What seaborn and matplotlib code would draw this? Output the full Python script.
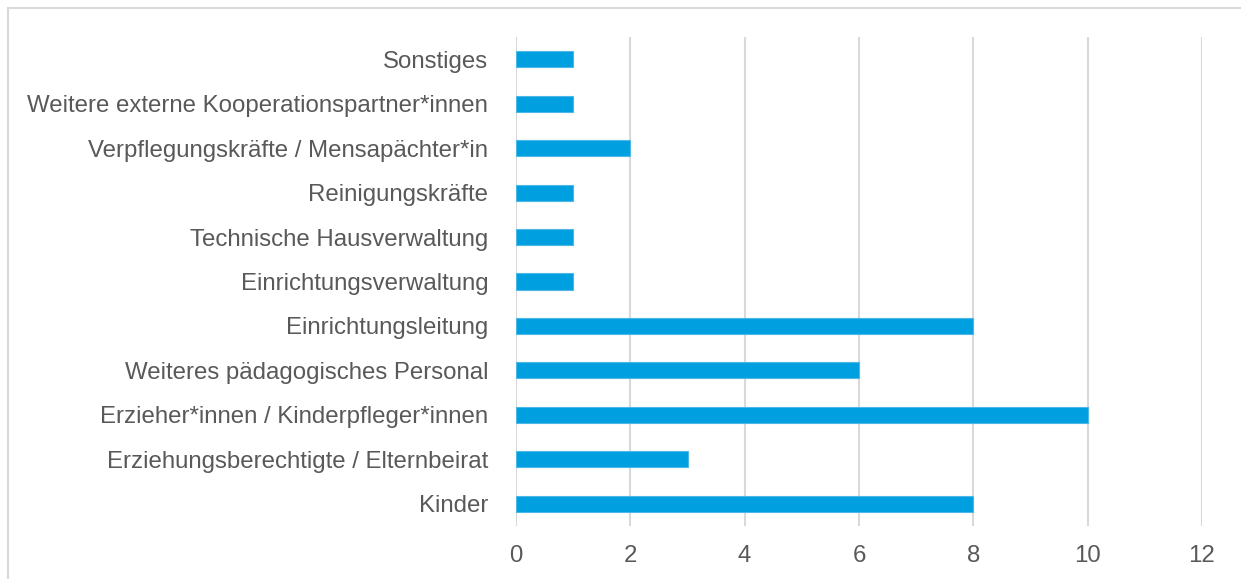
import matplotlib
matplotlib.use("Agg")
import matplotlib.pyplot as plt
import seaborn as sns
import pandas as pd
from matplotlib.lines import Line2D

categories = [
    "Sonstiges",
    "Weitere externe Kooperationspartner*innen",
    "Verpflegungskräfte / Mensapächter*in",
    "Reinigungskräfte",
    "Technische Hausverwaltung",
    "Einrichtungsverwaltung",
    "Einrichtungsleitung",
    "Weiteres pädagogisches Personal",
    "Erzieher*innen / Kinderpfleger*innen",
    "Erziehungsberechtigte / Elternbeirat",
    "Kinder",
]
values = [1, 1, 2, 1, 1, 1, 8, 6, 10, 3, 8]
x_ticks = [0, 2, 4, 6, 8, 10, 12]

df = pd.DataFrame({"Kategorie": categories, "Anzahl": values})

sns.set_theme(style="white")
plt.rcParams["font.family"] = ["Liberation Sans", "DejaVu Sans"]

fig = plt.figure(figsize=(12.41, 5.79), dpi=100)
ax = fig.add_axes([516 / 1241, 1 - 526 / 579, (1202 - 516) / 1241, (526 - 37) / 579])

sns.barplot(data=df, x="Anzahl", y="Kategorie", order=categories, orient="h",
            color="#009FDF", saturation=1, width=0.36, ax=ax,
            edgecolor="#4DB8E8", linewidth=0.8, zorder=3)

ax.set_xlim(0, 12)
ax.set_ylim(len(categories) - 0.5, -0.5)
ax.set_xticks(x_ticks)
ax.set_xticklabels([str(t) for t in x_ticks])
ax.set_xlabel("")
ax.set_ylabel("")
ax.grid(axis="x", color="#D9D9D9", linewidth=1.5, zorder=0)
ax.grid(axis="y", visible=False)
for s in ax.spines.values():
    s.set_visible(False)
ax.tick_params(axis="y", length=0, pad=20, labelsize=17.3, labelcolor="#595959")
ax.tick_params(axis="x", length=0, pad=14, labelsize=17.3, labelcolor="#595959")

# figure border (top and left visible)
fig.add_artist(Line2D([8 / 1241, 1.0], [1 - 7.5 / 579, 1 - 7.5 / 579],
                      transform=fig.transFigure, color="#D9D9D9", linewidth=1.5))
fig.add_artist(Line2D([8 / 1241, 8 / 1241], [0.0, 1 - 7.5 / 579],
                      transform=fig.transFigure, color="#D9D9D9", linewidth=1.5))

fig.savefig("out.png", dpi=100)
